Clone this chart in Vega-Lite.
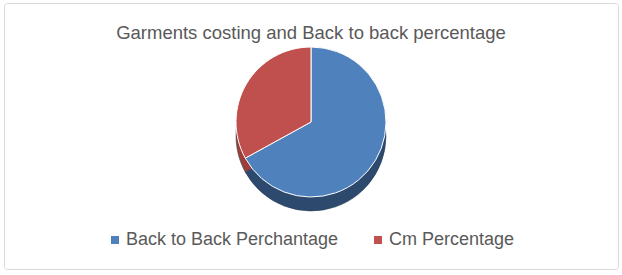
{
  "$schema": "https://vega.github.io/schema/vega-lite/v6.json",
  "width": 614,
  "height": 266,
  "autosize": "none",
  "padding": {"left": 4, "top": 3, "right": 4, "bottom": 6},
  "background": "white",
  "view": {"stroke": "#d9d9d9", "strokeWidth": 1, "cornerRadius": 3, "fill": "white"},
  "title": {
    "text": "Garments costing and Back to back percentage",
    "orient": "top",
    "anchor": "middle",
    "offset": -39,
    "font": "Liberation Sans",
    "fontSize": 18.5,
    "fontWeight": "normal",
    "color": "#595959"
  },
  "data": {
    "values": [
      {"category": "Back to Back Perchantage", "value": 67},
      {"category": "Cm Percentage", "value": 33}
    ]
  },
  "encoding": {
    "theta": {"field": "value", "type": "quantitative", "stack": true},
    "order": {"field": "value", "type": "quantitative", "sort": "descending"}
  },
  "layer": [
    {
      "mark": {"type": "arc", "outerRadius": 75, "yOffset": 0, "stroke": "#1f3550", "strokeWidth": 0.5},
      "encoding": {
        "color": {
          "field": "category",
          "type": "nominal",
          "scale": {"domain": ["Back to Back Perchantage", "Cm Percentage"], "range": ["#2d4a6e", "#9e3e3b"]},
          "legend": null
        }
      }
    },
    {
      "mark": {"type": "arc", "outerRadius": 75, "yOffset": -14, "stroke": "#ffffff", "strokeWidth": 1},
      "encoding": {
        "color": {
          "field": "category",
          "type": "nominal",
          "scale": {"domain": ["Back to Back Perchantage", "Cm Percentage"], "range": ["#4f81bd", "#c0504d"]},
          "legend": {
            "title": null,
            "orient": "none",
            "legendX": 102,
            "legendY": 228,
            "direction": "horizontal",
            "symbolType": "square",
            "symbolSize": 64,
            "symbolStrokeWidth": 0,
            "labelOffset": 2,
            "labelFont": "Liberation Sans",
            "labelFontSize": 18,
            "labelColor": "#595959",
            "columnPadding": 30,
            "labelLimit": 300
          }
        }
      }
    }
  ],
  "resolve": {"scale": {"color": "independent"}, "legend": {"color": "independent"}}
}
